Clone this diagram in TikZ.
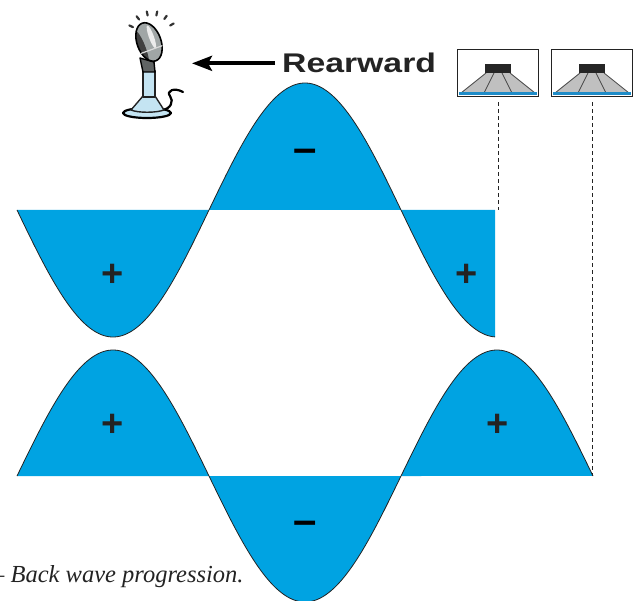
\documentclass[tikz,border=0pt]{standalone}
\usepackage{fontspec}
\newfontfamily\heavysans{Liberation Sans}
\newfontfamily\captionserif{Liberation Serif}
\usetikzlibrary{arrows.meta,calc}
\definecolor{waveblue}{RGB}{0,163,226}
\definecolor{stemblue}{RGB}{196,228,242}
\definecolor{conegrey}{RGB}{192,192,192}
\definecolor{rimblue}{RGB}{30,140,200}
\definecolor{inkdark}{RGB}{35,35,35}
\definecolor{headgrey}{RGB}{160,166,166}

\begin{document}
\begin{tikzpicture}[x=1pt,y=-1pt,
  wavefill/.style={fill=waveblue},
  waveline/.style={draw=inkdark,line width=0.8pt},
  plussign/.style={font=\heavysans\bfseries\fontsize{38}{38}\selectfont,text=inkdark,inner sep=0pt},
  minussign/.style={font=\heavysans\bfseries\fontsize{42}{42}\selectfont,text=black,inner sep=0pt},
  spkbox/.style={draw=inkdark,line width=1.3pt,minimum width=81pt,minimum height=47pt,inner sep=0pt,fill=white},
  guide/.style={draw=inkdark,line width=0.8pt,dash pattern=on 4pt off 3pt},
  rearrow/.style={draw=black,line width=3.8pt,-{Stealth[length=20pt,width=15pt,inset=4pt]}},
]
\useasboundingbox (0,0) rectangle (636,601);
\clip (0,0) rectangle (636,601);

% upper wave, cut off at its second trough
\fill[wavefill] (17,210) -- plot[domain=17:495,samples=200] (\x,{210+127*sin((\x-17)/192*180)}) -- (495,210) -- cycle;
\draw[waveline] plot[domain=17:495,samples=200] (\x,{210+127*sin((\x-17)/192*180)});

% lower wave, one and a half periods
\fill[wavefill] (17,476) -- plot[domain=17:593,samples=240] (\x,{476-126*sin((\x-17)/192*180)}) -- cycle;
\draw[waveline] plot[domain=17:593,samples=240] (\x,{476-126*sin((\x-17)/192*180)});

% pressure signs
\node[plussign]  (pUL) at (113,275) {+};
\node[minussign] (mUC) at (305,156) {–};
\node[plussign]  (pUR) at (467,275) {+};
\node[plussign]  (pLL) at (113,425) {+};
\node[minussign] (mLC) at (305,528) {–};
\node[plussign]  (pLR) at (498,425) {+};

% loudspeakers
\node[spkbox] (spkA) at (498,73) {};
\node[spkbox] (spkB) at (592,73) {};
\foreach \s in {spkA,spkB}{
  \begin{scope}[shift={(\s.center)}]
    \fill[conegrey] (-12,0) -- (12,0) -- (37,20) -- (-37,20) -- cycle;
    \draw[gray!55!black,line width=0.8pt] (-12,0) -- (-37,20) (12,0) -- (37,20)
      (-4,0) -- (-14,20) (4,0) -- (14,20);
    \fill[black!85] (-13,-9) rectangle (13,0);
    \fill[rimblue] (-39,19.5) rectangle (39,22.5);
  \end{scope}
}

% guide lines down to the wave ends
\coordinate (endA) at (497,210);
\coordinate (endB) at (592,476);
\draw[guide] ([yshift=-5pt]spkA.south) -- (spkA.south |- endA);
\draw[guide] ([yshift=-5pt]spkB.south) -- (spkB.south |- endB);

% label and arrow towards the microphone
\node[font=\heavysans\bfseries\fontsize{27}{27}\selectfont,text=inkdark,anchor=base west,inner sep=0pt]
  (rear) at (282,73) {\scalebox{1.25}[1]{Rearward}};
\coordinate (mictip) at (192,65);
\draw[rearrow] ([xshift=-7pt]rear.west) -- (rear.west -| mictip);

% microphone
\begin{scope}[line join=round,line cap=round]
  % sparkle marks
  \foreach \a in {-155,-128,-102,-78,-54,-30}
    \draw[black!80,line width=2.2pt] ($(152,36)+(\a:21)$) -- ($(152,36)+(\a:25)$);
  % cable
  \draw[black,line width=2.2pt] (162,110) .. controls (171,109) and (174,101) .. (170,96)
    .. controls (166,91) and (174,87) .. (183,92);
  % base plate and pedestal
  \draw[fill=stemblue,draw=black,line width=2.2pt] (147,113) ellipse (24 and 5);
  \draw[fill=stemblue,draw=inkdark,line width=1.4pt] (143,96) -- (155,96) -- (164,110)
    .. controls (156,113) and (138,113) .. (131,110) -- cycle;
  % stem
  \draw[fill=stemblue,draw=inkdark,line width=1.4pt] (143,71) rectangle (155,97);
  % yoke
  \draw[fill=headgrey!60!black,draw=black,line width=1.4pt] (140,58) -- (154,62) -- (155,72) -- (143,72) -- cycle;
  % head
  \begin{scope}
    \clip[rotate around={20:(149,42)}] (149,42) ellipse (12 and 20);
    \fill[headgrey] (120,10) rectangle (180,70);
    \fill[black!75,rotate around={20:(149,42)}] (139,46) ellipse (5 and 20);
    \fill[white!85!gray,rotate around={20:(149,42)}] (153,38) ellipse (2.5 and 12);
  \end{scope}
  \draw[black,line width=1.6pt,rotate around={20:(149,42)}] (149,42) ellipse (12 and 20);
  \draw[white!70!gray,line width=1.2pt,rotate around={20:(149,42)}] (138,50) -- (160,50);
\end{scope}

% caption
\node[font=\captionserif\itshape\fontsize{24.5}{24.5}\selectfont,text=inkdark,anchor=base west,inner sep=0pt]
  (cap) at (-8,582) {– Back wave progression.};
\end{tikzpicture}
\end{document}
